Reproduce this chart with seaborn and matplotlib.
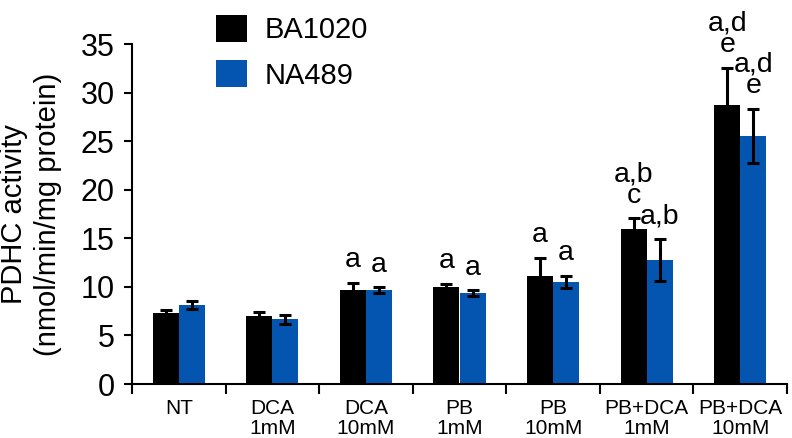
import numpy as np
import pandas as pd
import matplotlib
matplotlib.use("Agg")
import matplotlib.pyplot as plt
import seaborn as sns

# values
conditions = ["NT", "DCA\n1mM", "DCA\n10mM", "PB\n1mM", "PB\n10mM",
              "PB+DCA\n1mM", "PB+DCA\n10mM"]
strains = ["BA1020", "NA489"]
ba1020 = [7.3, 7.0, 9.65, 9.95, 11.1, 15.95, 28.75]
ba1020_err = [0.3, 0.4, 0.75, 0.35, 1.9, 1.1, 3.8]
na489 = [8.1, 6.65, 9.65, 9.35, 10.5, 12.75, 25.5]
na489_err = [0.4, 0.45, 0.3, 0.3, 0.6, 2.15, 2.8]
ba1020_sig = ["", "", "a", "a", "a", "a,b\nc", "a,d\ne"]
na489_sig = ["", "", "a", "a", "a", "a,b", "a,d\ne"]
colors = ["#000000", "#0455B0"]

df = pd.DataFrame({
    "condition": conditions * 2,
    "strain": [strains[0]] * len(conditions) + [strains[1]] * len(conditions),
    "activity": ba1020 + na489,
})

sns.set_style("ticks", {"axes.edgecolor": "black", "text.color": "black",
                        "xtick.color": "black", "ytick.color": "black",
                        "axes.labelcolor": "black"})
plt.rcParams["font.family"] = ["Liberation Sans", "DejaVu Sans"]

fig = plt.figure(figsize=(7.92, 4.38), dpi=100)
ax = fig.add_axes([132 / 792, 1 - 384 / 438, 655 / 792, 340 / 438])

sns.barplot(data=df, x="condition", y="activity", hue="strain",
            hue_order=strains, palette=colors, width=0.556,
            errorbar=None, saturation=1, linewidth=0, ax=ax)

# error bars and significance letters on top of each bar
for cont, errs, sigs in zip(ax.containers, [ba1020_err, na489_err],
                            [ba1020_sig, na489_sig]):
    for bar, err, sig in zip(cont, errs, sigs):
        x = bar.get_x() + bar.get_width() / 2
        h = bar.get_height()
        ax.errorbar(x, h, yerr=err, color="black", elinewidth=2.2,
                    capsize=4, capthick=2.2, clip_on=False)
        if sig:
            ax.annotate(sig, (x, h + err), xytext=(0, 7),
                        textcoords="offset points", ha="center",
                        va="bottom", fontsize=20.5, linespacing=0.77,
                        annotation_clip=False)

ax.set_xlim(-0.5, len(conditions) - 0.5)
ax.set_ylim(0, 35)
ax.set_yticks(np.arange(0, 36, 5))
ax.set_xlabel("")
ax.set_ylabel("PDHC activity\n(nmol/min/mg protein)", fontsize=21,
              linespacing=1.25, labelpad=13.5)

ax.set_xticks(np.arange(-0.5, len(conditions), 1), minor=True)
ax.tick_params(axis="x", which="major", length=0, labelsize=15, pad=11)
ax.tick_params(axis="x", which="minor", length=7, width=1.5)
ax.tick_params(axis="y", length=6, width=1.5, labelsize=22, pad=6.5)
for lab in ax.get_xticklabels():
    lab.set_linespacing(1.05)

sns.despine(ax=ax)
for side in ["left", "bottom"]:
    ax.spines[side].set_linewidth(1.5)

handles, labels = ax.get_legend_handles_labels()
ax.legend(handles, labels, loc="upper left",
          bbox_to_anchor=(216 / 792, 1 - 15 / 438),
          bbox_transform=fig.transFigure, frameon=False, fontsize=21,
          handlelength=1.06, handleheight=1.03, handletextpad=0.6,
          labelspacing=0.55, borderpad=0, borderaxespad=0)

fig.savefig("out.png", dpi=100)
